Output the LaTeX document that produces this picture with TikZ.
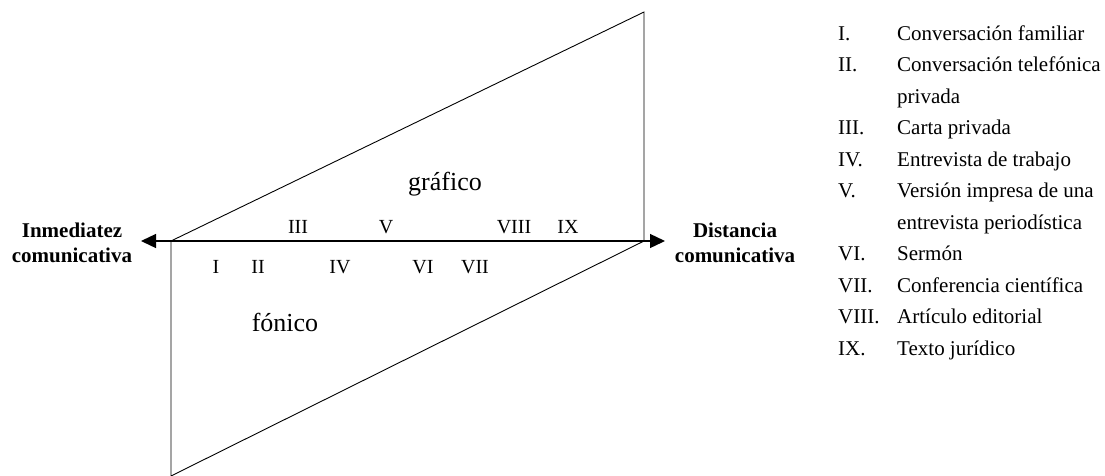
\documentclass[tikz,border=0pt]{standalone}
\usepackage{fontspec}
\setmainfont{Liberation Serif}
\usetikzlibrary{arrows.meta}
\begin{document}
\begin{tikzpicture}[x=1pt,y=-1pt,
  edge/.style={line width=0.9pt},
  axisline/.style={line width=1.3pt, {Triangle[length=15pt,width=14pt]}-{Triangle[length=15pt,width=14pt]}},
  pole/.style={font=\fontsize{21}{25}\selectfont\bfseries, align=center, inner sep=0pt},
  lbl/.style={font=\fontsize{20}{24}\selectfont, anchor=base, inner sep=0pt},
  zone/.style={font=\fontsize{26}{30}\selectfont, anchor=base, inner sep=0pt},
  num/.style={font=\fontsize{21}{24}\selectfont, anchor=base west, inner sep=0pt},
  itemtext/.style={font=\fontsize{21}{24}\selectfont, anchor=base west, inner sep=0pt}]
\useasboundingbox (0,0) rectangle (1105,475);
% shape
\coordinate (A) at (171,241);
\coordinate (B) at (644,12);
\coordinate (C) at (644,241);
\coordinate (D) at (171,476);
\draw[edge] (A) -- (B) -- (C) -- (D) -- cycle;
% axis
\coordinate (L) at (141,241);
\coordinate (R) at (665,241);
\draw[axisline] (L) -- (R);
% poles
\node[pole] (inm) at (72,243) {Inmediatez\\comunicativa};
\node[pole] (dist) at (735,243) {Distancia\\comunicativa};
% zones
\node[zone] (graf) at (445,190) {gráfico};
\node[zone] (fon) at (285,331) {fónico};
% labels above
\node[lbl] (l3) at (298,233) {III};
\node[lbl] (l5) at (386,233) {V};
\node[lbl] (l8) at (514,233) {VIII};
\node[lbl] (l9) at (568,233) {IX};
% labels below
\node[lbl] (l1) at (216,273) {I};
\node[lbl] (l2) at (258,273) {II};
\node[lbl] (l4) at (340,273) {IV};
\node[lbl] (l6) at (423,273) {VI};
\node[lbl] (l7) at (475,273) {VII};
% list
\node[num] (n1) at (838,40) {I.};
\node[itemtext] (t1) at (897,40) {Conversación familiar};
\node[num] (n2) at (838,71.5) {II.};
\node[itemtext] (t2) at (897,71.5) {Conversación telefónica};
\node[itemtext] (t2b) at (897,103) {privada};
\node[num] (n3) at (838,134.5) {III.};
\node[itemtext] (t3) at (897,134.5) {Carta privada};
\node[num] (n4) at (838,166) {IV.};
\node[itemtext] (t4) at (897,166) {Entrevista de trabajo};
\node[num] (n5) at (838,197.5) {V.};
\node[itemtext] (t5) at (897,197.5) {Versión impresa de una};
\node[itemtext] (t5b) at (897,229) {entrevista periodística};
\node[num] (n6) at (838,260.5) {VI.};
\node[itemtext] (t6) at (897,260.5) {Sermón};
\node[num] (n7) at (838,292) {VII.};
\node[itemtext] (t7) at (897,292) {Conferencia científica};
\node[num] (n8) at (838,323.5) {VIII.};
\node[itemtext] (t8) at (897,323.5) {Artículo editorial};
\node[num] (n9) at (838,355) {IX.};
\node[itemtext] (t9) at (897,355) {Texto jurídico};
\end{tikzpicture}
\end{document}
